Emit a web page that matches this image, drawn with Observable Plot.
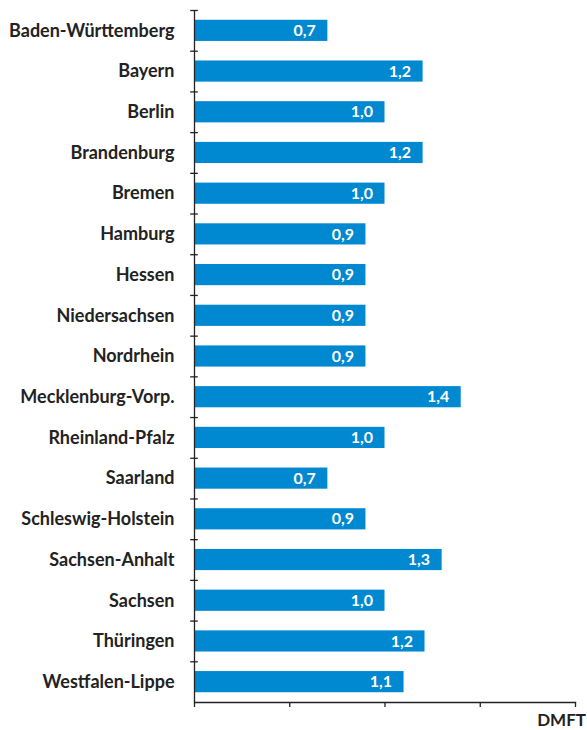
<!DOCTYPE html>
<html><head><meta charset="utf-8">
<script src="https://cdn.jsdelivr.net/npm/d3@7"></script>
<script src="https://cdn.jsdelivr.net/npm/@observablehq/plot@0.6"></script>
<style>
body{margin:0;background:#fff;}
#chart{position:relative;width:587px;height:730px;}
#unit{position:absolute;right:1px;top:711px;font:700 17px/18px Lato, sans-serif;color:#222;}
</style>
</head><body>
<div id="chart"></div>
<script>
const regions = ["Baden-Württemberg","Bayern","Berlin","Brandenburg","Bremen","Hamburg","Hessen","Niedersachsen","Nordrhein","Mecklenburg-Vorp.","Rheinland-Pfalz","Saarland","Schleswig-Holstein","Sachsen-Anhalt","Sachsen","Thüringen","Westfalen-Lippe"];
const dmft = [0.7,1.2,1.0,1.2,1.0,0.9,0.9,0.9,0.9,1.4,1.0,0.7,0.9,1.3,1.0,1.21,1.1];
const xTicks = [0,0.5,1,1.5,2];
const unitLabel = "DMFT";

const data = regions.map((r,i)=>({region:r, value:dmft[i]}));
const H = 730, mt = 10, mb = 28;
const step = (H-mt-mb)/regions.length;
const fmt = v => v.toFixed(1).replace(".", ",");

const chart = Plot.plot({
  width: 587, height: H,
  marginLeft: 194, marginRight: 12, marginTop: mt, marginBottom: mb,
  style: {fontFamily: "Lato, sans-serif", color: "#222", overflow: "visible"},
  x: {domain: [0,2]},
  y: {domain: regions, paddingInner: 0.48, paddingOuter: 0.24, round: false},
  marks: [
    Plot.barX(data, {x: "value", y: "region", fill: "#0088d0"}),
    Plot.text(data, {x: "value", y: "region", text: d => fmt(d.value), textAnchor: "end", dx: -12, fill: "white", fontWeight: 700, fontSize: 16}),
    Plot.axisY({tickSize: 0, tickPadding: 20, fontSize: 18, fontWeight: 700, fill: "#222", label: null}),
    Plot.axisX({ticks: xTicks, tickSize: 5, tickFormat: () => "", label: null, stroke: "#222", strokeWidth: 1.3}),
    Plot.ruleX([0], {stroke: "#222", strokeWidth: 1.3}),
    Plot.frame({anchor: "bottom", stroke: "#222", strokeWidth: 1.3}),
    Plot.ruleY(regions, {y: d=>d, dy: -step/2, x1: -0.02, x2: 0.02, stroke: "#222", strokeWidth: 1.3})
  ]
});
document.getElementById("chart").appendChild(chart);
const u = document.createElement("div"); u.id="unit"; u.textContent = unitLabel;
document.getElementById("chart").appendChild(u);
</script>
</body></html>
